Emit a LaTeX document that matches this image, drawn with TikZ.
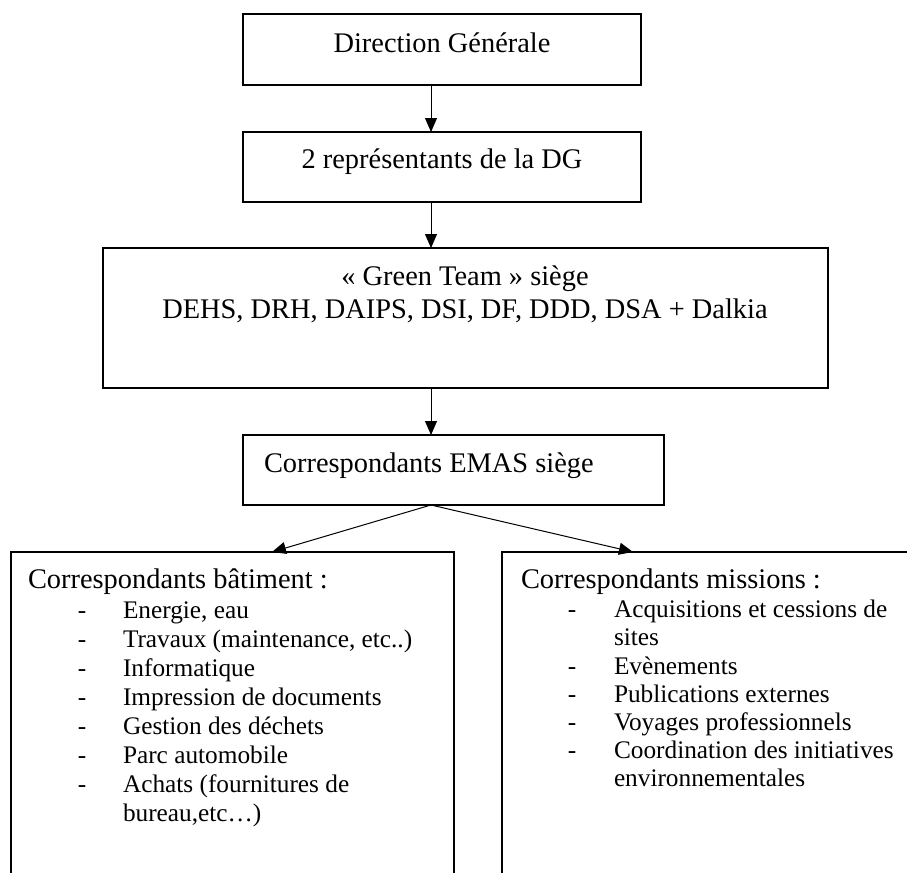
\documentclass[tikz,border=0pt]{standalone}
\usepackage{fontspec}
\setmainfont{Liberation Serif}
\usetikzlibrary{arrows.meta}
\tikzset{
  box/.style={draw, line width=1.2bp, inner sep=0pt, outer sep=0pt, rectangle},
  txt/.style={inner sep=0pt, outer sep=0pt, font=\fontsize{28.4bp}{34bp}\selectfont},
  itm/.style={inner sep=0pt, outer sep=0pt, font=\fontsize{25.3bp}{29bp}\selectfont},
  arr/.style={line width=1bp, -{Triangle[width=12bp,length=14bp]}}
}
\begin{document}
\begin{tikzpicture}[x=1bp,y=-1bp]
\useasboundingbox (0,0) rectangle (907,873);
\clip (0,0) rectangle (907,873);
% boxes
\node[box, minimum width=398bp, minimum height=71bp] (dg) at (442,49.5) {};
\node[box, minimum width=398bp, minimum height=70bp] (rep) at (442,167) {};
\node[box, minimum width=725bp, minimum height=140bp] (gt) at (465.5,318) {};
\node[box, minimum width=421bp, minimum height=70bp] (emas) at (453.5,470) {};
\node[box, minimum width=443bp, minimum height=348bp] (bat) at (232.5,726) {};
\node[box, minimum width=428bp, minimum height=348bp] (mis) at (716,726) {};
% reference coordinates for connectors
\coordinate (ax) at (431,0);
\coordinate (tl) at (272,0);
\coordinate (tr) at (633,0);
% connectors
\draw[arr] (dg.south -| ax) -- (rep.north -| ax);
\draw[arr] (rep.south -| ax) -- (gt.north -| ax);
\draw[arr] (gt.south -| ax) -- (emas.north -| ax);
\draw[arr] (emas.south -| ax) -- (bat.north -| tl);
\draw[arr] (emas.south -| ax) -- (mis.north -| tr);
% texts
\node[txt, anchor=base] (tdg) at (442,52) {Direction Générale};
\node[txt, anchor=base] (trep) at (442,168) {2 représentants de la DG};
\node[txt, anchor=base] (tgt1) at (465,285) {«~Green Team~» siège};
\node[txt, anchor=base] (tgt2) at (465,318) {DEHS, DRH, DAIPS, DSI, DF, DDD, DSA + Dalkia};
\node[txt, anchor=base west] (temas) at (264,472) {Correspondants EMAS siège};
% left list
\node[txt, anchor=base west] (hbat) at (28,588) {Correspondants bâtiment :};
\foreach \i/\t/\d in {1/{Energie, eau}/1, 2/{Travaux (maintenance, etc..)}/1, 3/{Informatique}/1, 4/{Impression de documents}/1, 5/{Gestion des déchets}/1, 6/{Parc automobile}/1, 7/{Achats (fournitures de}/1, 8/{bureau,etc…)}/0}{
  \node[itm, anchor=base west] (lb\i) at (123,{590+28.9*\i}) {\t};
  \ifnum\d=1 \node[itm, anchor=base] (ld\i) at (82,{590+28.9*\i}) {-};\fi
}
% right list
\node[txt, anchor=base west] (hmis) at (521,588) {Correspondants missions :};
\foreach \i/\t/\d in {1/{Acquisitions et cessions de}/1, 2/{sites}/0, 3/{Evènements}/1, 4/{Publications externes}/1, 5/{Voyages professionnels}/1, 6/{Coordination des initiatives}/1, 7/{environnementales}/0}{
  \node[itm, anchor=base west] (rb\i) at (614,{589.5+28.2*\i}) {\t};
  \ifnum\d=1 \node[itm, anchor=base] (rd\i) at (572,{589.5+28.2*\i}) {-};\fi
}
\end{tikzpicture}
\end{document}
